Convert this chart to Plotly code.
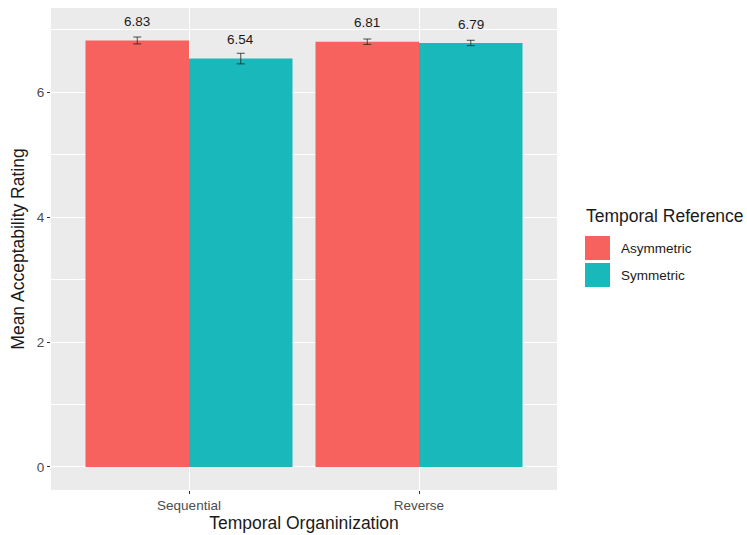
import plotly.graph_objects as go

categories = ["Sequential", "Reverse"]
series_names = ["Asymmetric", "Symmetric"]
asym_means = [6.83, 6.81]
sym_means = [6.54, 6.79]
asym_err = [0.055, 0.043]
sym_err = [0.085, 0.043]
asym_labels = ["6.83", "6.81"]
sym_labels = ["6.54", "6.79"]
y_ticks = [0, 2, 4, 6]

colors = ["#F8625E", "#19B9BB"]

fig = go.Figure()
x_pos = [1, 2]
for name, means, errs, labels, col, off in [
    (series_names[0], asym_means, asym_err, asym_labels, colors[0], -0.225),
    (series_names[1], sym_means, sym_err, sym_labels, colors[1], 0.225),
]:
    fig.add_trace(go.Bar(
        x=x_pos, y=means, name=name, offsetgroup=name,
        marker=dict(color=col, line=dict(width=0)),
        error_y=dict(type="data", array=errs, visible=True, color="#222222",
                     thickness=0.8, width=4),
        showlegend=False,
    ))
    for xi, m, lab in zip(x_pos, means, labels):
        fig.add_annotation(x=xi + off, y=m + 0.3, text=lab, showarrow=False,
                           xref="x", yref="y", yanchor="middle",
                           font=dict(family="Liberation Sans, Arial", size=13.5, color="#1a1a1a"))

fig.update_layout(
    width=747, height=535,
    margin=dict(l=51, r=190, t=8, b=45),
    paper_bgcolor="white",
    plot_bgcolor="#EBEBEB",
    barmode="group", bargap=0.1, bargroupgap=0,
    font=dict(family="Liberation Sans, Arial", color="#4D4D4D"),
    showlegend=False,
)
fig.update_xaxes(
    range=[0.4, 2.6], tickvals=x_pos, ticktext=categories,
    showgrid=True, gridcolor="white", gridwidth=1.1,
    ticks="outside", ticklen=3, tickcolor="#333333", tickwidth=1,
    tickfont=dict(size=13.5, color="#4D4D4D"),
    title=dict(text="Temporal Organinization", font=dict(size=17.5, color="#1a1a1a"), standoff=3),
    zeroline=False, showline=False, automargin=False,
)
fig.update_yaxes(
    range=[-0.37, 7.35], tickvals=y_ticks,
    showgrid=True, gridcolor="white", gridwidth=1.1,
    minor=dict(tickvals=[1, 3, 5, 7], showgrid=True, gridcolor="white", gridwidth=0.5),
    ticks="outside", ticklen=3, tickcolor="#333333", tickwidth=1,
    tickfont=dict(size=13.5, color="#4D4D4D"),
    title=dict(text="Mean Acceptability Rating", font=dict(size=17.5, color="#1a1a1a"), standoff=7),
    zeroline=False, showline=False, automargin=False,
)

# legend drawn manually (ggplot-style keys)
fig.add_annotation(xref="paper", yref="paper", x=(584 - 51) / 506, y=(535 - 45 - 216) / 482,
                   xanchor="left", yanchor="middle", showarrow=False,
                   text="Temporal Reference", font=dict(size=17.5, color="#1a1a1a"))
key_tops = [236, 263]
for name, col, top in zip(series_names, colors, key_tops):
    y0 = (535 - 45 - (top + 24)) / 482
    y1 = (535 - 45 - top) / 482
    fig.add_shape(type="rect", xref="paper", yref="paper",
                  x0=(585 - 51) / 506, x1=(610 - 51) / 506, y0=y0, y1=y1,
                  fillcolor=col, line=dict(width=0))
    fig.add_annotation(xref="paper", yref="paper", x=(619 - 51) / 506, y=(y0 + y1) / 2,
                       xanchor="left", yanchor="middle", showarrow=False,
                       text=name, font=dict(size=13.5, color="#1a1a1a"))

fig.write_html("out.html", post_script="document.body.style.margin='0';",
               config={"displayModeBar": False})
